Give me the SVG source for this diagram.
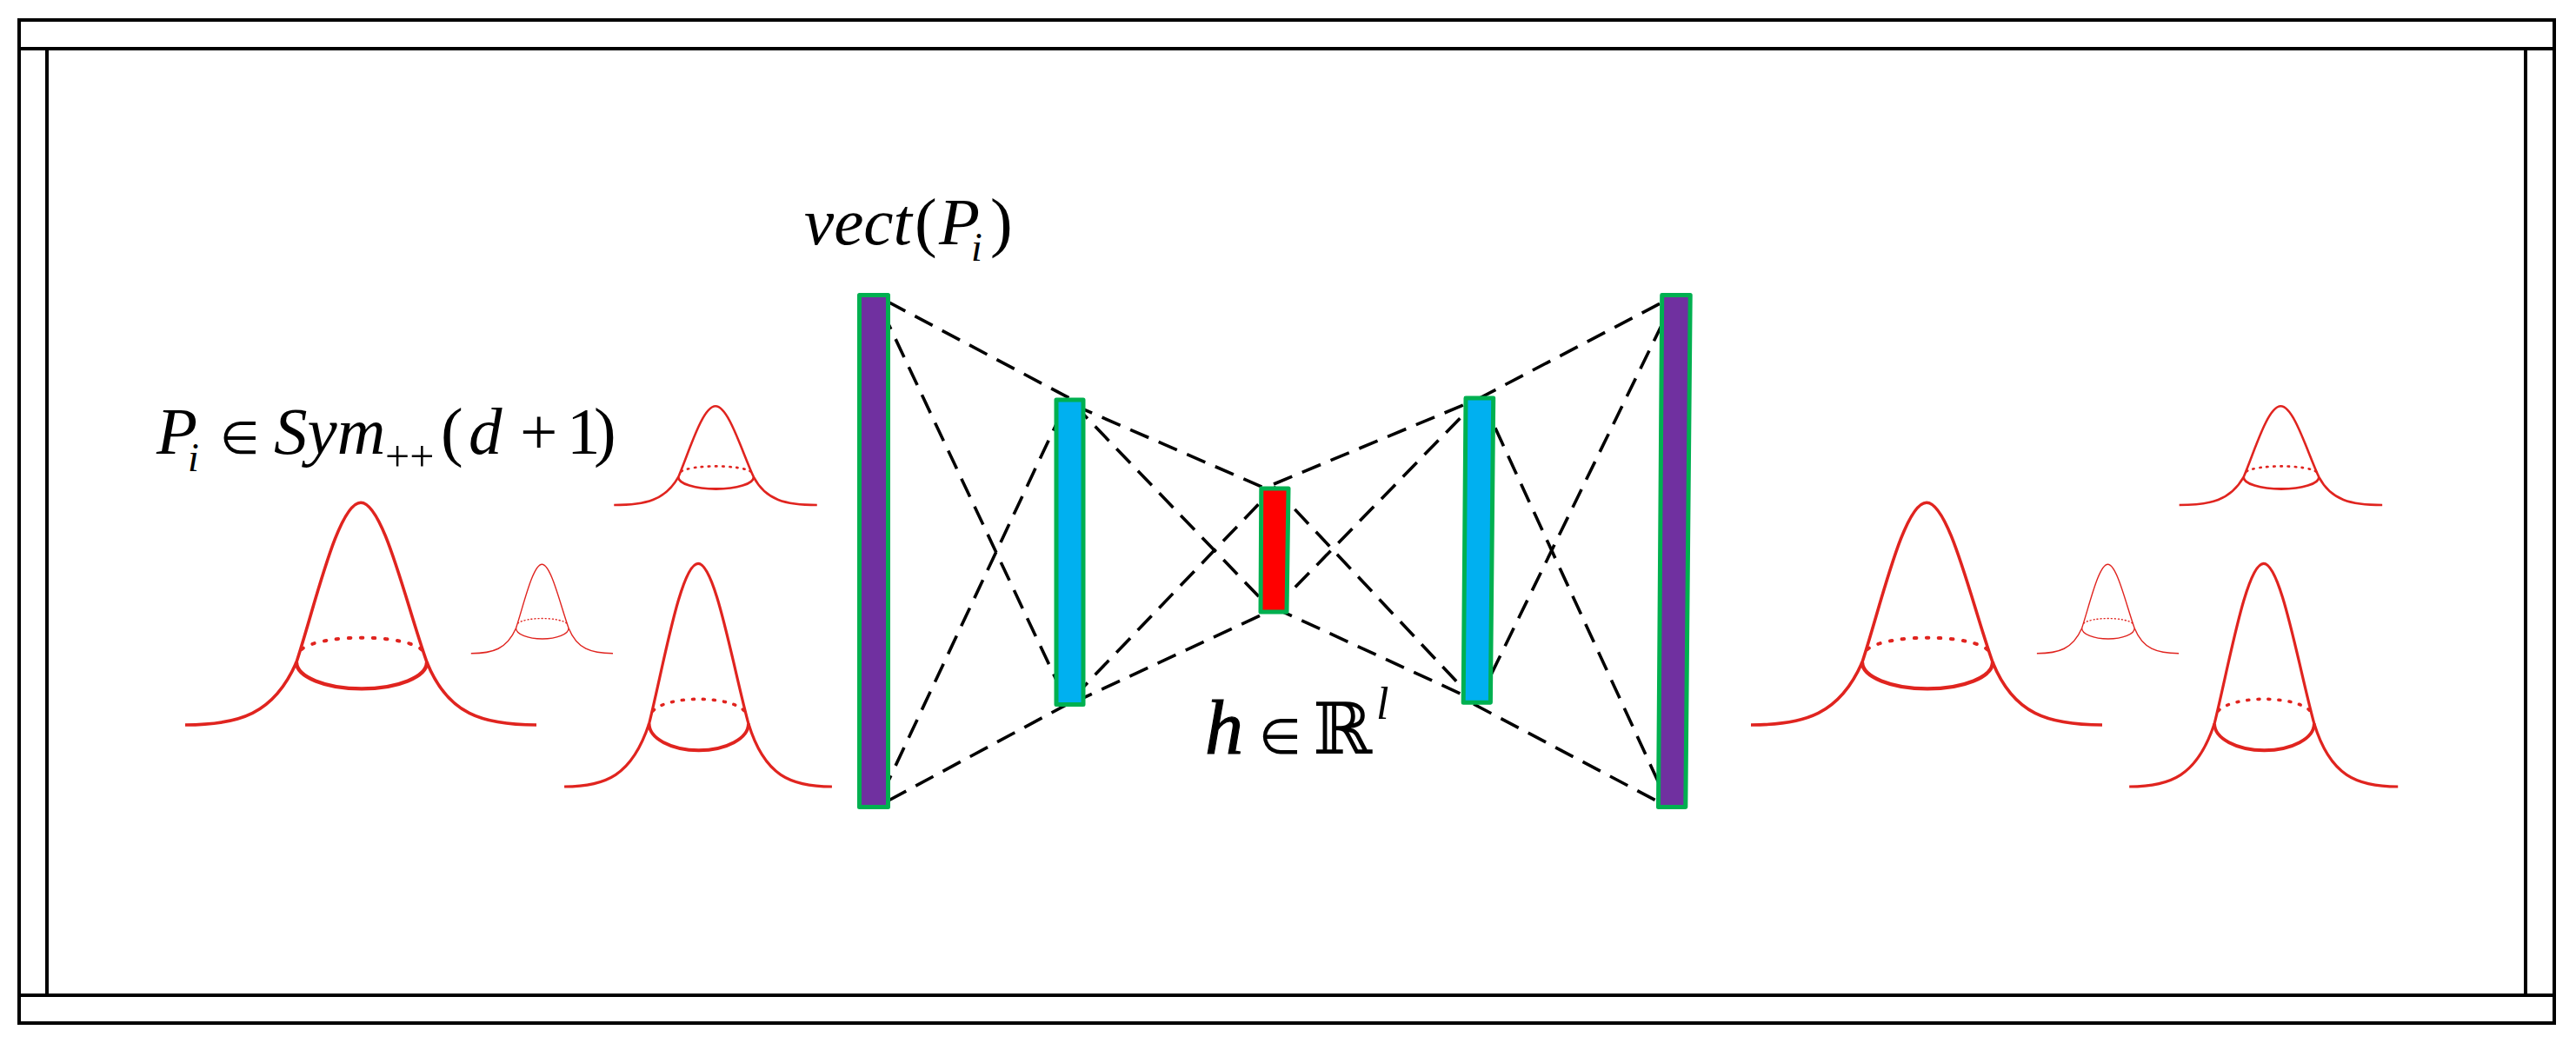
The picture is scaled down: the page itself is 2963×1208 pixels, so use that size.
<svg xmlns="http://www.w3.org/2000/svg" width="2963" height="1208" viewBox="0 0 2963 1208">
<style>
.frame{fill:none;stroke:#000;stroke-width:4}
.conn line{stroke:#000;stroke-width:3.6;stroke-dasharray:23 12.5;fill:none}
.bar{stroke:#00B050;stroke-width:5;stroke-linejoin:round}
.purple{fill:#7030A0}.cyan{fill:#00B0F0}.red{fill:#FF0000}
.curve,.rim,.dots{fill:none;stroke:#E0241F;vector-effect:non-scaling-stroke}
.curve{stroke-width:var(--w)}
.rim{stroke-width:var(--r)}
.dots{stroke-width:var(--d);stroke-dasharray:var(--p);stroke-linecap:round}
.big{--w:3.6;--r:4.4;--d:4;--p:2.5 11.5}
.mid{--w:3.2;--r:3.8;--d:3.6;--p:2 10}
.small{--w:2.6;--r:2.8;--d:2.6;--p:1.5 6.5}
.tiny{--w:1.4;--r:1.4;--d:1.4;--p:1 3}
text{font-family:"Liberation Serif","Times New Roman",serif;fill:#000}
.eq{font-size:77px}
.it{font-style:italic}
.sub{font-size:46px}
.pp{font-size:50px}
.el{font-family:"DejaVu Sans",sans-serif}
</style>
<defs>
<g id="bell">
<path class="curve" d="M-202,0C-140,0 -100,-20 -74,-118C-52,-228 -26,-418 0,-418C26,-418 52,-228 76,-118C100,-20 140,0 202,0"/>
<path class="rim" d="M-74,-118A75,50 0 0 0 76,-118"/>
<path class="dots" d="M-68,-142A72,31 0 0 1 71,-140"/>
</g>
</defs>
<rect width="2963" height="1208" fill="#fff"/>
<g id="frame" class="frame">
<rect x="22" y="23" width="2916" height="1154"/>
<line x1="22" y1="56" x2="2938" y2="56"/>
<line x1="22" y1="1145" x2="2938" y2="1145"/>
<line x1="54" y1="56" x2="54" y2="1145"/>
<line x1="2905" y1="56" x2="2905" y2="1145"/>
</g>
<g id="connectors" class="conn">
<line x1="1021" y1="347" x2="1230" y2="458"/>
<line x1="1015" y1="358" x2="1222" y2="797"/>
<line x1="1015" y1="913" x2="1222" y2="473"/>
<line x1="1022" y1="921" x2="1230" y2="809"/>
<line x1="1235" y1="466" x2="1465" y2="566"/>
<line x1="1235" y1="465" x2="1465" y2="704"/>
<line x1="1235" y1="802" x2="1465" y2="562"/>
<line x1="1235" y1="808" x2="1465" y2="701"/>
<line x1="1465" y1="557" x2="1700" y2="459"/>
<line x1="1465" y1="701" x2="1700" y2="460"/>
<line x1="1465" y1="560" x2="1695" y2="805"/>
<line x1="1465" y1="699" x2="1695" y2="805"/>
<line x1="1700" y1="459" x2="1925" y2="341"/>
<line x1="1705" y1="460" x2="1920" y2="927"/>
<line x1="1700" y1="807" x2="1925" y2="346"/>
<line x1="1695" y1="810" x2="1920" y2="929"/>
</g>
<g id="layer-input"><rect class="bar purple" x="988.5" y="339.5" width="33" height="589"/></g>
<g id="layer-enc"><rect class="bar cyan" x="1215" y="460" width="31" height="350.5"/></g>
<g id="layer-code"><polygon class="bar red" points="1450.8,562 1482,562 1480,704 1450,704"/></g>
<g id="layer-dec"><polygon class="bar cyan" points="1686,458 1717.7,458 1714.4,808.3 1683.2,808.3"/></g>
<g id="layer-output"><polygon class="bar purple" points="1911.7,339.5 1944.2,339.5 1938.8,928.5 1907.5,928.5"/></g>
<g id="bell-l1" class="big"><use href="#bell" transform="translate(415 834) scale(1 .612)"/></g>
<g id="bell-l2" class="small"><use href="#bell" transform="translate(823 581) scale(.578 .272)"/></g>
<g id="bell-l3" class="tiny"><use href="#bell" transform="translate(623.4 751.7) scale(.404 .245)"/></g>
<g id="bell-l4" class="mid"><use href="#bell" transform="translate(803 905) scale(.762 .614)"/></g>
<g id="bell-r1" class="big"><use href="#bell" transform="translate(2216 834) scale(1 .612)"/></g>
<g id="bell-r2" class="small"><use href="#bell" transform="translate(2623.4 581) scale(.578 .272)"/></g>
<g id="bell-r3" class="tiny"><use href="#bell" transform="translate(2424.5 751.7) scale(.404 .245)"/></g>
<g id="bell-r4" class="mid"><use href="#bell" transform="translate(2603.7 905) scale(.765 .614)"/></g>
<g id="labels">
<text class="eq" y="281"><tspan class="it" x="925">vect</tspan><tspan x="1052">(</tspan><tspan class="it" x="1080">P</tspan><tspan class="it sub" x="1117" y="300">i</tspan><tspan x="1139" y="281">)</tspan></text>
<text class="eq" y="522"><tspan class="it" x="180">P</tspan><tspan class="it sub" x="216" y="542">i</tspan><tspan class="el" font-size="52" x="253" y="522">∈</tspan><tspan class="it" x="315" y="522">Sym</tspan><tspan class="pp" x="443" y="542">++</tspan><tspan x="507" y="522">(</tspan><tspan class="it" x="539">d</tspan><tspan x="598">+</tspan><tspan x="652">1</tspan><tspan x="683">)</tspan></text>
<text y="867" font-size="88"><tspan font-style="italic" stroke="#000" stroke-width="1.2" x="1386">h</tspan><tspan class="el" font-size="56" x="1448">∈</tspan><tspan x="1510" style="font-family:'DejaVu Serif','DejaVu Sans',serif" font-size="82">ℝ</tspan><tspan font-style="italic" font-size="52" x="1583" y="827">l</tspan></text>
</g>
</svg>
